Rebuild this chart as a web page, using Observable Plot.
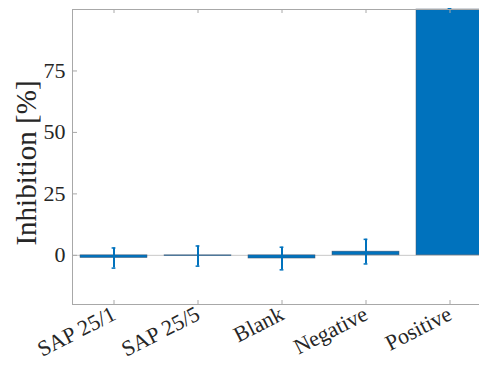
<!DOCTYPE html>
<html>
<head>
<meta charset="utf-8">
<script src="https://cdn.jsdelivr.net/npm/d3@7"></script>
<script src="https://cdn.jsdelivr.net/npm/@observablehq/plot@0.6"></script>
<style>
  html, body { margin: 0; padding: 0; background: #fff; width: 479px; height: 379px; overflow: hidden; font-family: 'Times New Roman', 'Liberation Serif', serif; }
  #chart svg { display: block; overflow: hidden; }
</style>
</head>
<body>
<div id="chart"></div>
<script>
const categories = ["SAP 25/1", "SAP 25/5", "Blank", "Negative", "Positive"];
const means = [-1.1, -0.3, -1.3, 1.5, 100];
const errors = [4.1, 4.1, 4.6, 5.0, 0.3];
const yTicks = [0, 25, 50, 75];
const yLabel = "Inhibition [%]";

const data = categories.map((c, i) => ({cat: c, mean: means[i], err: errors[i]}));

const W = 479, H = 379;
const mL = 72, mT = 9, mB = 75, mR = 0;
const plotH = H - mT - mB;
const plotW = W - mL - mR;
const blue = "#0072BD";
const axisGray = "#a8a8a8";
const font = "Times New Roman, Liberation Serif, serif";

const chart = Plot.plot({
  width: W,
  height: H,
  marginLeft: mL,
  marginTop: mT,
  marginBottom: mB,
  marginRight: mR,
  style: `font-family: ${font}; color: #262626; background: #fff;`,
  x: {domain: categories, range: [72, 492], paddingInner: 0.2, paddingOuter: 0.1, axis: null},
  y: {domain: [-20, 100], axis: null},
  marks: [
    Plot.ruleY([0], {stroke: "#c8c8c8", strokeWidth: 1}),
    Plot.barY(data, {x: "cat", y: "mean", fill: blue, stroke: "#44546a", strokeWidth: 0.6, strokeOpacity: 0.8}),
    Plot.ruleX(data, {x: "cat", y1: d => d.mean - d.err, y2: d => d.mean + d.err, stroke: blue, strokeWidth: 2}),
    Plot.tickY(data, {x: "cat", y: d => d.mean - d.err, stroke: blue, strokeWidth: 1.5, insetLeft: 31.6, insetRight: 31.6}),
    Plot.tickY(data, {x: "cat", y: d => d.mean + d.err, stroke: blue, strokeWidth: 1.5, insetLeft: 31.6, insetRight: 31.6}),
    Plot.frame({stroke: axisGray, strokeWidth: 1}),
    Plot.ruleY(yTicks, {stroke: axisGray, insetRight: plotW - 5}),
    Plot.ruleX(categories, {x: d => d, stroke: axisGray, insetTop: plotH - 4}),
    Plot.ruleX(categories, {x: d => d, stroke: axisGray, insetBottom: plotH - 4}),
    Plot.axisY({ticks: yTicks, tickSize: 0, tickPadding: 7, fontSize: 22, fontFamily: font, label: null, stroke: "none"}),
    Plot.axisX({tickSize: 0, tickPadding: 8, tickRotate: -27, fontSize: 22, fontFamily: font, label: null}),
    Plot.text([yLabel], {frameAnchor: "left", textAnchor: "middle", dx: -46, dy: 6, rotate: -90, fontSize: 29, fontFamily: font, fill: "#262626"})
  ]
});
document.getElementById("chart").appendChild(chart);
</script>
</body>
</html>
